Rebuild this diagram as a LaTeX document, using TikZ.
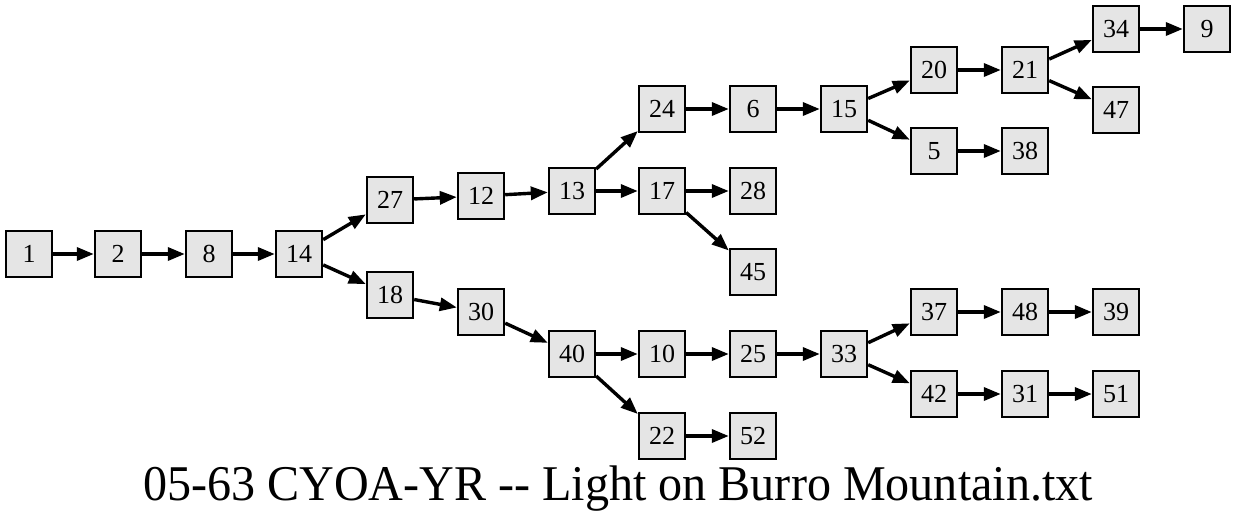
\documentclass[tikz,border=0pt]{standalone}
\usepackage{fontspec}
\setmainfont{Liberation Serif}
\usepackage{tikz}
\usetikzlibrary{arrows.meta}

\begin{document}
\begin{tikzpicture}[x=1pt,y=-1pt,>={Triangle[length=17pt,width=13pt]}, every node/.style={font=\fontsize{26}{30}\selectfont}]
\tikzstyle{page}=[draw, line width=2.4pt, fill=black!10, minimum width=46pt, minimum height=46pt, inner sep=0pt]
\tikzstyle{link}=[->, line width=3.4pt]
\useasboundingbox (0,0) rectangle (1237,523);
\node[page] (n1) at (29,254) {1};
\node[page] (n2) at (118,254) {2};
\node[page] (n8) at (209,254) {8};
\node[page] (n14) at (299,254) {14};
\node[page] (n27) at (390,200) {27};
\node[page] (n18) at (390,295) {18};
\node[page] (n12) at (481,196) {12};
\node[page] (n30) at (481,312) {30};
\node[page] (n13) at (572,191) {13};
\node[page] (n40) at (572,354) {40};
\node[page] (n24) at (662,109) {24};
\node[page] (n17) at (662,191) {17};
\node[page] (n10) at (662,354) {10};
\node[page] (n22) at (662,436) {22};
\node[page] (n6) at (753,109) {6};
\node[page] (n28) at (753,191) {28};
\node[page] (n45) at (753,272) {45};
\node[page] (n25) at (753,354) {25};
\node[page] (n52) at (753,436) {52};
\node[page] (n15) at (844,109) {15};
\node[page] (n33) at (844,354) {33};
\node[page] (n20) at (934,70) {20};
\node[page] (n5) at (934,151) {5};
\node[page] (n37) at (934,312) {37};
\node[page] (n42) at (934,394) {42};
\node[page] (n21) at (1025,70) {21};
\node[page] (n38) at (1025,151) {38};
\node[page] (n48) at (1025,312) {48};
\node[page] (n31) at (1025,394) {31};
\node[page] (n34) at (1116,29) {34};
\node[page] (n47) at (1116,110) {47};
\node[page] (n39) at (1116,312) {39};
\node[page] (n51) at (1116,394) {51};
\node[page] (n9) at (1207,29) {9};
\node (title) at (618,489) {\fontsize{50}{60}\selectfont\scalebox{0.962}[1]{05-63 CYOA-YR -{}- Light on Burro Mountain.txt}};
\draw[link] (n1) -- (n2);
\draw[link] (n2) -- (n8);
\draw[link] (n8) -- (n14);
\draw[link] (n14) -- (n27);
\draw[link] (n14) -- (n18);
\draw[link] (n27) -- (n12);
\draw[link] (n12) -- (n13);
\draw[link] (n13) -- (n24);
\draw[link] (n13) -- (n17);
\draw[link] (n17) -- (n28);
\draw[link] (n17) -- (n45);
\draw[link] (n24) -- (n6);
\draw[link] (n6) -- (n15);
\draw[link] (n15) -- (n20);
\draw[link] (n15) -- (n5);
\draw[link] (n20) -- (n21);
\draw[link] (n21) -- (n34);
\draw[link] (n21) -- (n47);
\draw[link] (n34) -- (n9);
\draw[link] (n5) -- (n38);
\draw[link] (n18) -- (n30);
\draw[link] (n30) -- (n40);
\draw[link] (n40) -- (n10);
\draw[link] (n40) -- (n22);
\draw[link] (n10) -- (n25);
\draw[link] (n25) -- (n33);
\draw[link] (n33) -- (n37);
\draw[link] (n33) -- (n42);
\draw[link] (n37) -- (n48);
\draw[link] (n48) -- (n39);
\draw[link] (n42) -- (n31);
\draw[link] (n31) -- (n51);
\draw[link] (n22) -- (n52);
\end{tikzpicture}
\end{document}
